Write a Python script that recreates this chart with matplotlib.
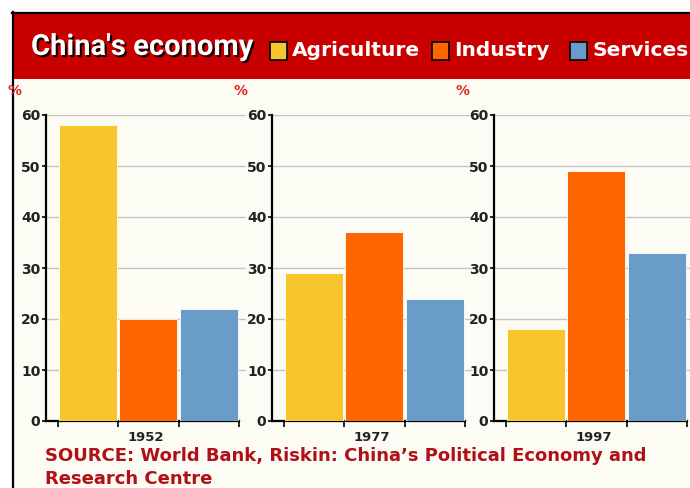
import matplotlib
matplotlib.use('Agg')
import matplotlib.pyplot as plt
import matplotlib.patheffects as pe
from matplotlib.patches import Rectangle
from matplotlib.lines import Line2D

# --- Datos (% del PIB por sector) ---
years = ['1952', '1977', '1997']
sectors = ['Agriculture', 'Industry', 'Services']
agriculture = [58, 29, 18]
industry = [20, 37, 49]
services = [22, 24, 33]
yticks = [0, 10, 20, 30, 40, 50, 60]

colors = ['#F7C62F', '#FF6600', '#6A9CCA']
W, H = 690, 488


def fx(px):
    return px / W


def fy(py):
    return 1 - py / H


fig = plt.figure(figsize=(W / 100, H / 100), dpi=100)
fig.patch.set_facecolor('white')

# fondo del panel y marco
fig.patches.append(Rectangle((fx(13), 0), 1 - fx(13), fy(13), transform=fig.transFigure,
                             facecolor='#FCFCF5', edgecolor='none', zorder=-2))
fig.patches.append(Rectangle((fx(13), fy(79)), 1 - fx(13), fy(13) - fy(79), transform=fig.transFigure,
                             facecolor='#C90000', edgecolor='none', zorder=-1))
fig.lines.append(Line2D([fx(13), fx(13)], [0, fy(12)], transform=fig.transFigure, color='black', lw=1.6))
fig.lines.append(Line2D([fx(12), 1], [fy(12.5), fy(12.5)], transform=fig.transFigure, color='black', lw=1.6))

# titulo
fig.text(fx(31), fy(47), "China's economy", color='white', fontsize=21, fontweight='bold',
         family=['Roboto', 'DejaVu Sans'], ha='left', va='center',
         path_effects=[pe.withSimplePatchShadow(offset=(1.5, -1.5), shadow_rgbFace='black', alpha=0.9)])

# leyenda
legend_x = [270, 432, 570]
for sx, name, c in zip(legend_x, sectors, colors):
    fig.patches.append(Rectangle((fx(sx), fy(60)), fx(17), fy(42) - fy(60), transform=fig.transFigure,
                                 facecolor=c, edgecolor='black', lw=1.2, zorder=3))
    fig.text(fx(sx + 22), fy(51), name, color='white', fontsize=14.5, fontweight='bold',
             ha='left', va='center', zorder=3)

# --- Paneles ---
panel_left = [46, 272, 494]
values = list(zip(agriculture, industry, services))
for left, year, vals in zip(panel_left, years, values):
    ax = fig.add_axes([fx(left), fy(421), fx(200), fy(115) - fy(421)], zorder=2)
    ax.set_facecolor('none')
    ax.bar([0, 1, 2], vals, width=0.96, color=colors, edgecolor='white', linewidth=0.6, zorder=3)
    ax.set_xlim(-0.7, 2.62)
    ax.set_ylim(0, 60)
    ax.set_yticks(yticks)
    ax.set_yticklabels([str(t) for t in yticks], fontsize=10, fontweight='bold', color='#222222')
    ax.set_xticks([-0.5, 0.5, 1.5, 2.5])
    ax.set_xticklabels([])
    ax.tick_params(axis='y', length=3, width=1.2, pad=1)
    ax.tick_params(axis='x', length=4, width=1.2, direction='out')
    ax.set_xlabel(year, fontsize=9.5, fontweight='bold', color='#222222', labelpad=0)
    ax.grid(axis='y', color='#C4C4C4', linewidth=1, zorder=0)
    for s in ['top', 'right']:
        ax.spines[s].set_visible(False)
    ax.spines['left'].set_linewidth(1.6)
    ax.spines['bottom'].set_linewidth(1.6)
    ax.spines['bottom'].set_bounds(-0.7, 2.5)
    fig.text(fx(left - 38), fy(91), '%', color='#E02020', fontsize=10, fontweight='bold',
             ha='left', va='center')

# fuente
fig.text(fx(45), fy(456), 'SOURCE: World Bank, Riskin: China\u2019s Political Economy and',
         color='#B01018', fontsize=13, fontweight='bold', ha='left', va='center')
fig.text(fx(45), fy(479), 'Research Centre',
         color='#B01018', fontsize=13, fontweight='bold', ha='left', va='center')

fig.savefig('out.png', dpi=100, facecolor=fig.get_facecolor())
